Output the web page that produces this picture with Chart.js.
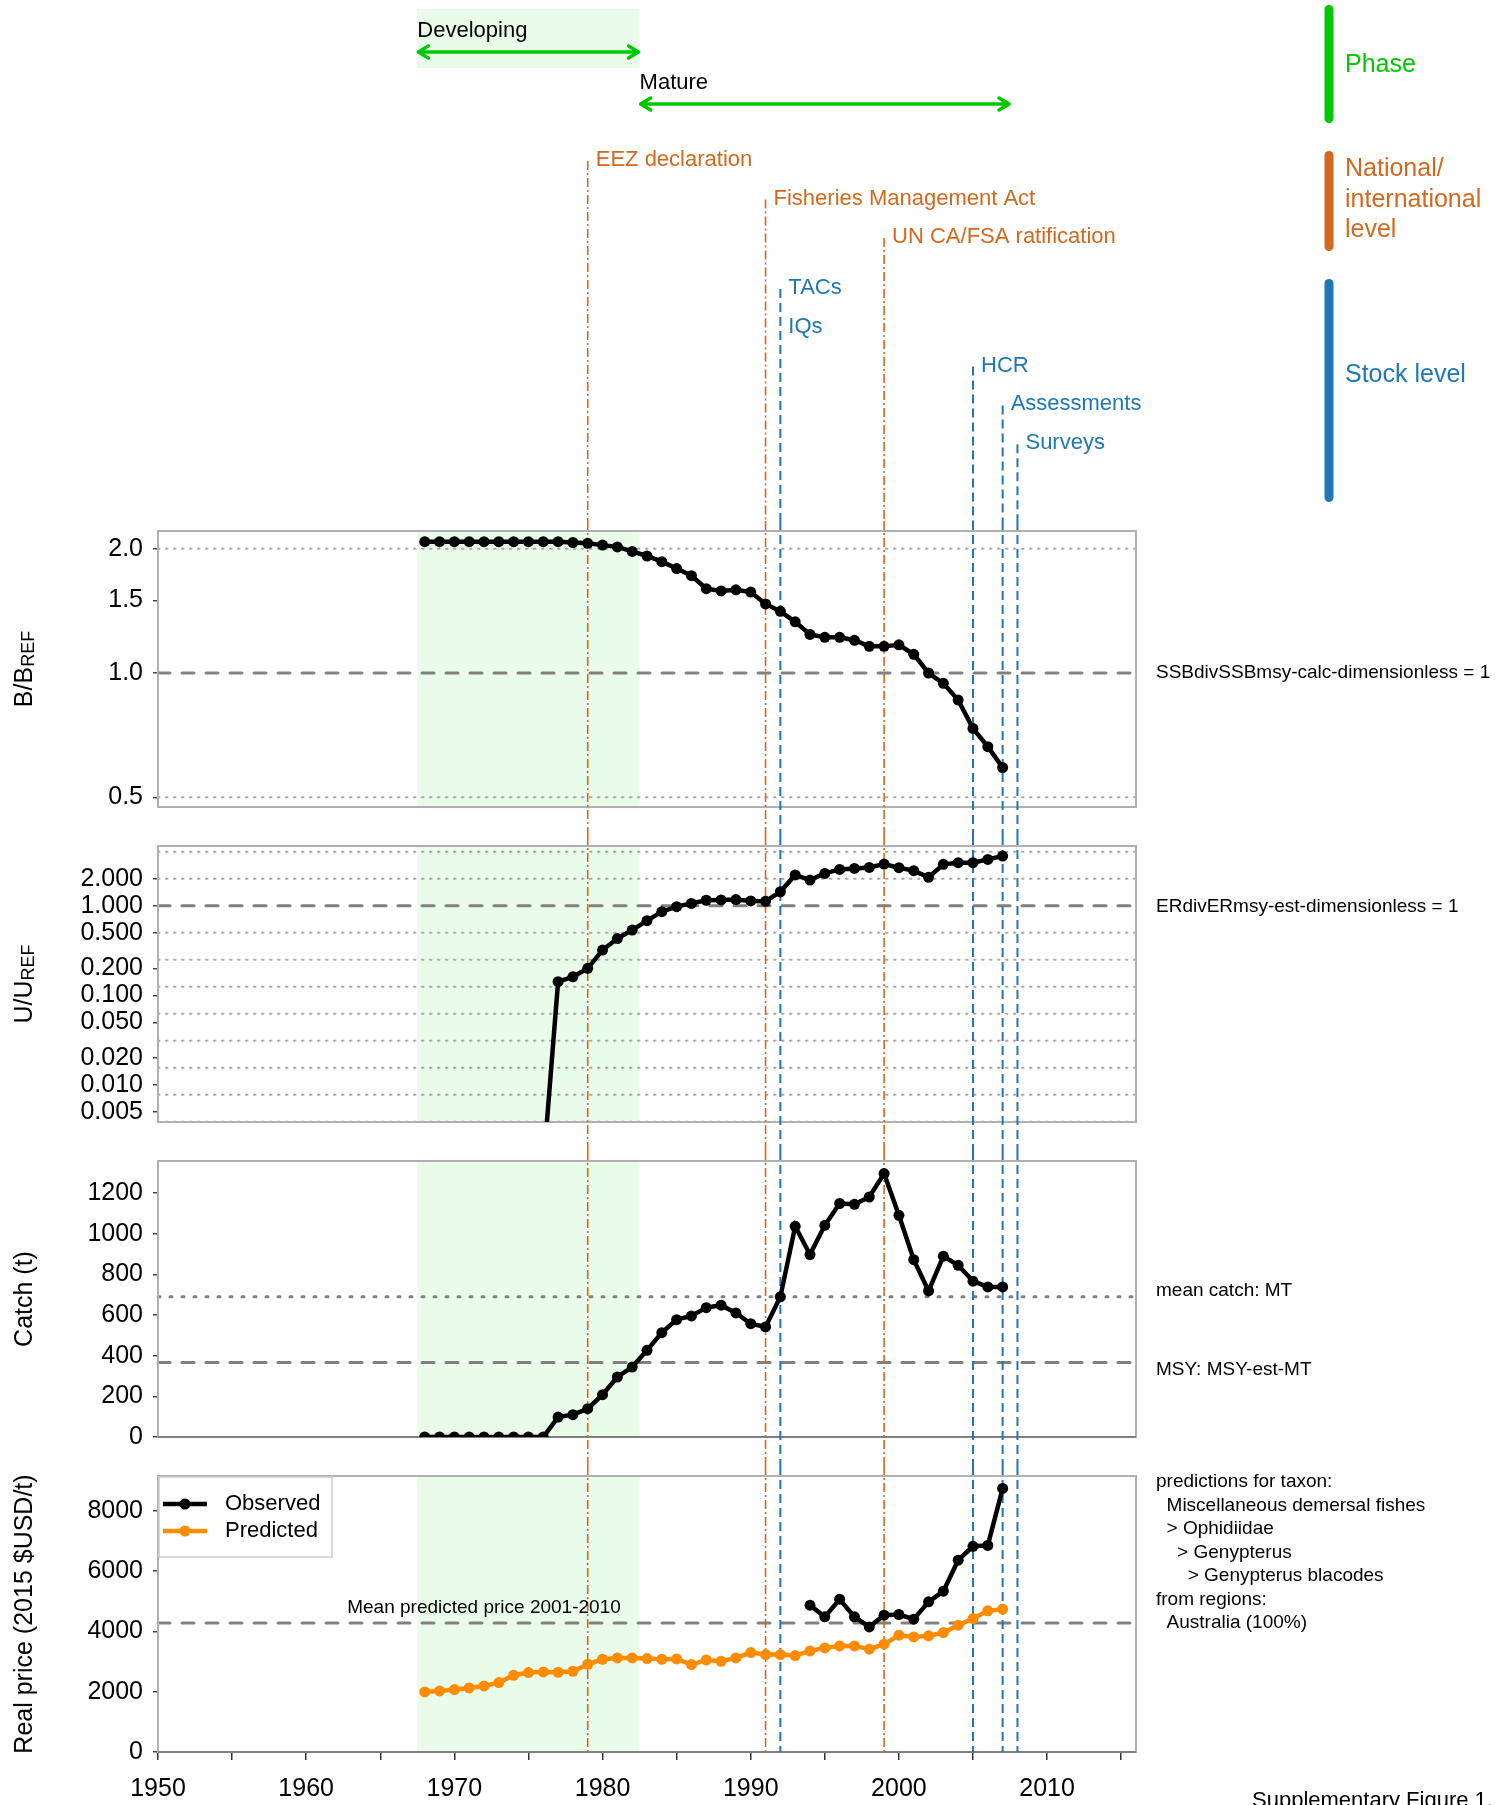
<!DOCTYPE html>
<html>
<head>
<meta charset="utf-8">
<title>Supplementary Figure 1</title>
<script src="https://cdn.jsdelivr.net/npm/chart.js@4.4.1/dist/chart.umd.min.js"></script>
<style>
  html,body{margin:0;padding:0;background:#fff}
  #page{position:relative;width:1510px;height:1805px;overflow:hidden}
  #page canvas{position:absolute;left:0;display:block}
</style>
</head>
<body>
<div id="page">
  <canvas id="c-top" width="1510" height="521" style="top:0"></canvas>
  <canvas id="c-b" width="1510" height="315" style="top:521px"></canvas>
  <canvas id="c-u" width="1510" height="315" style="top:836px"></canvas>
  <canvas id="c-catch" width="1510" height="315" style="top:1151px"></canvas>
  <canvas id="c-price" width="1510" height="339" style="top:1466px"></canvas>
</div>
<script>
// ══════════════ DONNÉES ══════════════
const YEARS = [1968,1969,1970,1971,1972,1973,1974,1975,1976,1977,
               1978,1979,1980,1981,1982,1983,1984,1985,1986,1987,
               1988,1989,1990,1991,1992,1993,1994,1995,1996,1997,
               1998,1999,2000,2001,2002,2003,2004,2005,2006,2007];

const B_RATIO = [2.08,2.08,2.08,2.08,2.08,2.08,2.08,2.08,2.08,2.08,
                 2.07,2.06,2.04,2.02,1.97,1.92,1.86,1.79,1.72,1.60,
                 1.58,1.59,1.57,1.47,1.41,1.33,1.24,1.22,1.22,1.20,
                 1.16,1.16,1.17,1.11,1.00,0.944,0.86,0.734,0.663,0.59];

const U_RATIO = [null,null,null,null,null,null,null,null,0.0012,0.142,
                 0.161,0.20,0.32,0.43,0.535,0.68,0.857,0.975,1.06,1.15,
                 1.16,1.17,1.13,1.12,1.43,2.20,1.93,2.29,2.54,2.60,
                 2.67,2.91,2.65,2.46,2.07,2.89,3.02,3.02,3.28,3.58];

const CATCH_T = [0,0,0,0,0,0,0,0,0,98,
                 110,139,208,295,344,426,513,577,595,636,
                 648,610,557,541,689,1036,897,1041,1148,1144,
                 1180,1295,1090,872,718,889,844,766,738,738];

const PRICE_OBS = [null,null,null,null,null,null,null,null,null,null,
                   null,null,null,null,null,null,null,null,null,null,
                   null,null,null,null,null,null,4867,4480,5066,4480,
                   4148,4535,4558,4403,4978,5332,6360,6820,6850,8739];

const PRICE_PRED = [1991,2024,2069,2124,2190,2301,2544,2633,2655,2644,
                    2677,2909,3075,3119,3119,3097,3075,3086,2898,3053,
                    3009,3119,3296,3230,3230,3197,3352,3451,3518,3518,
                    3407,3573,3872,3816,3850,3960,4204,4425,4679,4735];

const X_MIN = 1950, X_MAX = 2016;
const X_TICKS = [1950,1955,1960,1965,1970,1975,1980,1985,1990,1995,2000,2005,2010,2015];
const B_TICKS = [0.5,1.0,1.5,2.0];
const B_GRID = [0.5,2.0];
const U_TICKS = [0.005,0.01,0.02,0.05,0.1,0.2,0.5,1,2];
const U_GRID = [4,2,0.5,0.25,0.125,0.0625,0.03125,0.015625,0.0078125,0.00390625];
const CATCH_TICKS = [0,200,400,600,800,1000,1200];
const PRICE_TICKS = [0,2000,4000,6000,8000];

const B_REF = 1, U_REF = 1, MEAN_CATCH = 690, MSY = 366, MEAN_PRED_PRICE = 4280;

const PHASES = ['Developing','Mature'];
const PHASE_FROM = [1967.5,1982.5];
const PHASE_TO = [1982.5,2007.5];

const EVENT_LABELS = ['EEZ declaration','Fisheries Management Act','UN CA/FSA ratification',
                      'TACs','IQs','HCR','Assessments','Surveys'];
const EVENT_YEARS  = [1979,1991,1999,1992,1992,2005,2007,2008];
const EVENT_LEVELS = ['national','national','national','stock','stock','stock','stock','stock'];

const LEVEL_NAMES = [['Phase'],['National/','international','level'],['Stock level']];

const TAXON_NOTE = ['predictions for taxon:','  Miscellaneous demersal fishes','  > Ophidiidae',
                    '    > Genypterus','      > Genypterus blacodes','from regions:','  Australia (100%)'];

// ══════════════ STYLE ══════════════
const FONT = "'Liberation Sans', Arial, Helvetica, sans-serif";
const GREEN = '#00c800', ORANGE_EV = '#d2691e', BLUE = '#1f77b4', ORANGE = '#ff8c00', SHADE = '#e9fce9';
const Y_AXIS_W = 158, RIGHT_PAD = 374;

Chart.defaults.font.family = FONT;
Chart.defaults.color = '#000';

const xPx = (chart, v) => chart.scales.x.getPixelForValue(v);

function eventStyle(ctx, level){
  if(level==='national'){ ctx.strokeStyle=ORANGE_EV; ctx.lineWidth=1.6; ctx.setLineDash([9,3,2,3]); }
  else { ctx.strokeStyle=BLUE; ctx.lineWidth=2; ctx.setLineDash([9,5]); }
}

function drawEvents(chart, yStart, yEnd){
  const ctx = chart.ctx, done = {};
  EVENT_YEARS.forEach((yr,i)=>{
    if(done[yr]) return;
    done[yr] = true;
    const px = xPx(chart, yr);
    ctx.save();
    eventStyle(ctx, EVENT_LEVELS[i]);
    ctx.beginPath(); ctx.moveTo(px, yStart(i)); ctx.lineTo(px, yEnd); ctx.stroke();
    ctx.restore();
  });
}

function eventRowY(i){
  const lvl = EVENT_LEVELS[i];
  const k = EVENT_LEVELS.slice(0,i).filter(l=>l===lvl).length;
  return lvl==='national' ? 160 + k*38.5 : 288 + k*38.8;
}

function hArrow(ctx, x1, x2, y){
  ctx.save();
  ctx.strokeStyle=GREEN; ctx.lineWidth=3.5; ctx.lineCap='round'; ctx.lineJoin='round';
  ctx.beginPath();
  ctx.moveTo(x1+1,y); ctx.lineTo(x2-1,y);
  ctx.moveTo(x1+11,y-6); ctx.lineTo(x1+1,y); ctx.lineTo(x1+11,y+6);
  ctx.moveTo(x2-11,y-6); ctx.lineTo(x2-1,y); ctx.lineTo(x2-11,y+6);
  ctx.stroke();
  ctx.restore();
}

// ══════════════ BANDEAU DU HAUT ══════════════
const topDecor = {
  id:'topDecor',
  afterDraw(chart){
    const ctx = chart.ctx;
    ctx.save();
    // phase de développement
    const s0 = xPx(chart, PHASE_FROM[0]), s1 = xPx(chart, PHASE_TO[0]);
    ctx.fillStyle = SHADE;
    ctx.fillRect(s0, 9, s1-s0, 59);

    ctx.font = '22px '+FONT; ctx.fillStyle='#000'; ctx.textAlign='left'; ctx.textBaseline='middle';
    PHASES.forEach((p,i)=>{
      const x1 = xPx(chart, PHASE_FROM[i]), x2 = xPx(chart, PHASE_TO[i]);
      ctx.fillText(p, x1, 31 + i*52);
      hArrow(ctx, x1, x2, 52 + i*52);
    });

    // événements
    drawEvents(chart, i=>eventRowY(i)+1, chart.height);
    ctx.font = '22px '+FONT; ctx.textBaseline='middle';
    EVENT_LABELS.forEach((lab,i)=>{
      ctx.fillStyle = EVENT_LEVELS[i]==='national' ? ORANGE_EV : BLUE;
      ctx.fillText(lab, xPx(chart, EVENT_YEARS[i]) + 8, eventRowY(i));
    });

    // légende des niveaux
    const colors = [GREEN, ORANGE_EV, BLUE];
    const bars = [[9.5,118.5],[155.5,246.5],[283.5,497.5]];
    const textY = [65, 200, 375];
    ctx.lineCap='round'; ctx.lineWidth=9; ctx.setLineDash([]);
    ctx.font = '25px '+FONT;
    LEVEL_NAMES.forEach((lines,i)=>{
      ctx.strokeStyle = colors[i];
      ctx.beginPath(); ctx.moveTo(1329, bars[i][0]); ctx.lineTo(1329, bars[i][1]); ctx.stroke();
      ctx.fillStyle = colors[i];
      lines.forEach((t,j)=>ctx.fillText(t, 1345, textY[i] + (j-(lines.length-1)/2)*30.5));
    });
    ctx.restore();
  }
};

new Chart(document.getElementById('c-top'), {
  type:'line',
  data:{ datasets:[] },
  options:{
    responsive:false, animation:false, events:[],
    layout:{ autoPadding:false, padding:{ left:Y_AXIS_W, right:RIGHT_PAD, top:0, bottom:0 } },
    plugins:{ legend:{ display:false }, tooltip:{ enabled:false } },
    scales:{
      x:{ type:'linear', min:X_MIN, max:X_MAX, display:false },
      y:{ min:0, max:1, display:false }
    }
  },
  plugins:[topDecor]
});

// ══════════════ PANNEAUX ══════════════
function hline(ctx, a, py){
  ctx.beginPath(); ctx.moveTo(a.left, py); ctx.lineTo(a.right, py); ctx.stroke();
}

function drawYTitle(ctx, a, main, sub){
  ctx.save();
  ctx.translate(23, (a.top+a.bottom)/2);
  ctx.rotate(-Math.PI/2);
  ctx.fillStyle='#000'; ctx.textBaseline='alphabetic'; ctx.textAlign='left';
  ctx.font='25px '+FONT;
  const w1 = ctx.measureText(main).width;
  let w2 = 0;
  if(sub){ ctx.font='18px '+FONT; w2 = ctx.measureText(sub).width; }
  const start = -(w1+w2)/2;
  ctx.font='25px '+FONT;
  ctx.fillText(main, start, 9);
  if(sub){ ctx.font='18px '+FONT; ctx.fillText(sub, start+w1, 11); }
  ctx.restore();
}

const panelDecor = {
  id:'decor',
  beforeDatasetsDraw(chart, args, o){
    const { ctx, chartArea:a } = chart;
    const y = chart.scales.y;
    ctx.save();
    const s0 = xPx(chart, PHASE_FROM[0]), s1 = xPx(chart, PHASE_TO[0]);
    ctx.fillStyle = SHADE;
    ctx.fillRect(s0, a.top, s1-s0, a.height);

    ctx.strokeStyle='#a8a8a8'; ctx.lineWidth=2; ctx.lineCap='round'; ctx.setLineDash([1.5,6.5]);
    (o.grid||[]).forEach(v=>hline(ctx, a, y.getPixelForValue(v)));

    (o.refs||[]).forEach(r=>{
      ctx.strokeStyle='#808080'; ctx.lineWidth=3; ctx.lineCap='round';
      ctx.setLineDash(r.kind==='dotted' ? [2,10] : [12,12]);
      hline(ctx, a, y.getPixelForValue(r.v));
    });

    ctx.setLineDash([]); ctx.lineCap='butt';
    ctx.strokeStyle='#b0b0b0'; ctx.lineWidth=2;
    ctx.strokeRect(a.left, a.top, a.width, a.height);
    if(o.zero){
      ctx.strokeStyle='#808080';
      hline(ctx, a, a.bottom);
    }
    ctx.restore();
    drawEvents(chart, ()=>0, o.last ? a.bottom : chart.height);
  },
  afterDraw(chart, args, o){
    const { ctx, chartArea:a } = chart;
    const y = chart.scales.y;
    drawYTitle(ctx, a, o.title[0], o.title[1]);
    ctx.save();
    ctx.fillStyle='#000'; ctx.textAlign='left'; ctx.textBaseline='middle';
    ctx.font='19px '+FONT;
    (o.notes||[]).forEach(n=>ctx.fillText(n.text, a.right+20, y.getPixelForValue(n.v)+n.dy));
    (o.block||[]).forEach((t,i)=>ctx.fillText(t, a.right+20, a.top+6+i*23.5));
    (o.refs||[]).filter(r=>r.label).forEach(r=>{
      ctx.textAlign='center';
      ctx.fillText(r.label, xPx(chart, r.labelYear), y.getPixelForValue(r.v)-15);
    });

    if(o.legend){
      ctx.fillStyle='#fff'; ctx.strokeStyle='#cccccc'; ctx.lineWidth=1.5;
      ctx.fillRect(a.left+1, a.top+1, 173, 80);
      ctx.strokeRect(a.left+1, a.top+1, 173, 80);
      chart.data.datasets.forEach((d,i)=>{
        const ly = a.top + 28 + i*27;
        ctx.strokeStyle=d.borderColor; ctx.lineWidth=4.5;
        ctx.beginPath(); ctx.moveTo(a.left+5, ly); ctx.lineTo(a.left+49, ly); ctx.stroke();
        ctx.fillStyle=d.borderColor;
        ctx.beginPath(); ctx.arc(a.left+27, ly, 5.5, 0, Math.PI*2); ctx.fill();
        ctx.fillStyle='#000'; ctx.textAlign='left'; ctx.font='22px '+FONT;
        ctx.fillText(d.label, a.left+67, ly);
      });
    }
    if(o.footer){
      ctx.font='22px '+FONT; ctx.fillStyle='#000'; ctx.textAlign='left';
      ctx.fillText(o.footer, 1252, chart.height-4);
    }
    ctx.restore();
  }
};

function series(label, values, color){
  return {
    label,
    data: YEARS.map((yr,i)=>({ x:yr, y:values[i] })),
    borderColor: color, backgroundColor: color,
    borderWidth: 4.5, pointRadius: 5.5, pointBorderWidth: 0,
    pointBackgroundColor: color, tension: 0, spanGaps: false
  };
}

function panel(id, o){
  const last = !!o.decor.last;
  return new Chart(document.getElementById(id), {
    type:'line',
    data:{ datasets:o.datasets },
    options:{
      responsive:false, animation:false, events:[],
      layout:{ autoPadding:false, padding:{ left:0, right:RIGHT_PAD, top:10, bottom:last?0:29 } },
      plugins:{ legend:{ display:false }, tooltip:{ enabled:false }, decor:o.decor },
      scales:{
        x:{
          type:'linear', min:X_MIN, max:X_MAX, bounds:'data', display:last,
          afterBuildTicks:s=>{ s.ticks = X_TICKS.map(v=>({ value:v })); },
          afterFit:s=>{ s.height = last ? 53 : 0; s.paddingLeft = 0; s.paddingRight = 0; },
          grid:{ drawOnChartArea:false, tickLength:8, color:'#333', lineWidth:1.5 },
          border:{ display:false },
          ticks:{ padding:14, font:{ size:25 }, color:'#000', maxRotation:0, autoSkip:false,
                  callback:v=> v%10===0 ? String(v) : '' }
        },
        y:{
          type:o.log ? 'logarithmic' : 'linear', min:o.min, max:o.max, bounds:'data',
          afterFit:s=>{ s.width = Y_AXIS_W; s.paddingTop = 0; s.paddingBottom = 0; },
          afterBuildTicks:s=>{ s.ticks = o.ticks.map(v=>({ value:v })); },
          grid:{ drawOnChartArea:false, tickLength:5, color:'#444', lineWidth:1.5 },
          border:{ display:false },
          ticks:{ padding:10, font:{ size:25 }, color:'#000', autoSkip:false, callback:o.fmt }
        }
      }
    },
    plugins:[panelDecor]
  });
}

panel('c-b', {
  log:true, min:0.4737, max:2.207, ticks:B_TICKS, fmt:v=>Number(v).toFixed(1),
  datasets:[ series('B/BREF', B_RATIO, '#000') ],
  decor:{ grid:B_GRID, refs:[{ v:B_REF, kind:'dashed' }], title:['B/B','REF'],
          notes:[{ text:'SSBdivSSBmsy-calc-dimensionless = 1', v:B_REF, dy:0 }] }
});

panel('c-u', {
  log:true, min:0.00387, max:4.63, ticks:U_TICKS, fmt:v=>Number(v).toFixed(3),
  datasets:[ series('U/UREF', U_RATIO, '#000') ],
  decor:{ grid:U_GRID, refs:[{ v:U_REF, kind:'dashed' }], title:['U/U','REF'],
          notes:[{ text:'ERdivERmsy-est-dimensionless = 1', v:U_REF, dy:1 }] }
});

panel('c-catch', {
  log:false, min:0, max:1357, ticks:CATCH_TICKS, fmt:v=>String(v),
  datasets:[ series('Catch', CATCH_T, '#000') ],
  decor:{ refs:[{ v:MEAN_CATCH, kind:'dotted' },{ v:MSY, kind:'dashed' }], zero:true, title:['Catch (t)'],
          notes:[{ text:'mean catch: MT', v:MEAN_CATCH, dy:-6 },{ text:'MSY: MSY-est-MT', v:MSY, dy:7 }] }
});

panel('c-price', {
  log:false, min:0, max:9150, ticks:PRICE_TICKS, fmt:v=>String(v),
  datasets:[ series('Observed', PRICE_OBS, '#000'), series('Predicted', PRICE_PRED, ORANGE) ],
  decor:{ refs:[{ v:MEAN_PRED_PRICE, kind:'dashed', label:'Mean predicted price 2001-2010', labelYear:1972 }],
          zero:true, last:true, title:['Real price (2015 $USD/t)'], block:TAXON_NOTE, legend:true,
          footer:'Supplementary Figure 1.' }
});
</script>
</body>
</html>
